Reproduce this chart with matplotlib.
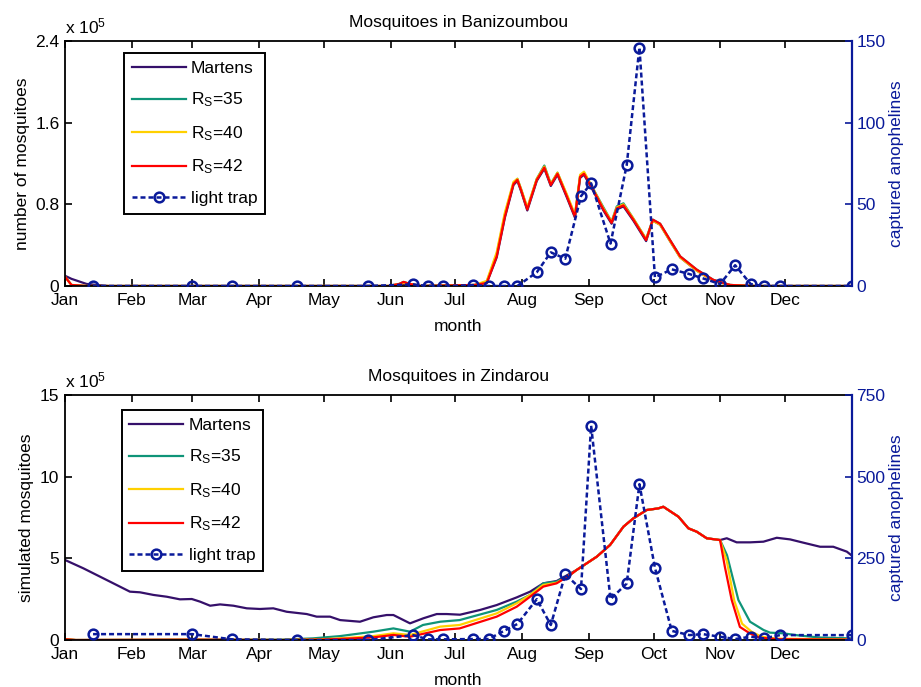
import numpy as np
import matplotlib
matplotlib.use("Agg")
from matplotlib import pyplot as plt

plt.rcParams["font.family"] = ["Liberation Sans", "DejaVu Sans"]
plt.rcParams["mathtext.fontset"] = "custom"
plt.rcParams["mathtext.rm"] = "Liberation Sans"
plt.rcParams["mathtext.it"] = "Liberation Sans"
FS = 12.5
plt.rcParams["font.size"] = FS

months = ["Jan", "Feb", "Mar", "Apr", "May", "Jun", "Jul", "Aug", "Sep", "Oct", "Nov", "Dec"]
month_start = [0, 31, 59, 90, 120, 151, 181, 212, 243, 273, 304, 334]

# light trap catch dates (day of year), shared by both sites
trap_days = [13, 59, 77.5, 107.6, 140.5, 161.4, 168.3, 175.3, 189.4, 196.5,
             203.6, 209.8, 218.8, 225.3, 232, 239.3, 244, 253, 260.5, 266.4,
             273.6, 281.4, 289.6, 295.8, 303.8, 310.8, 318, 324, 331.6, 365]

# ---- Banizoumbou (x 1e5 mosquitoes) ----
ban_days = [0, 3, 10, 20, 150, 155, 157, 160, 165, 190,
            195.6, 200.2, 204, 208, 209.8, 211.5, 214.4, 218.8, 222.3, 225.3,
            228.4, 232.7, 236.5, 238.9, 240.7, 245, 249.7, 253.5, 255.9, 259,
            263.6, 269.5, 272.6, 276, 280.6, 285.3, 293, 300.7, 308.4, 320, 365]
ban_martens = [0.10, 0.07, 0.02, 0.0, 0.0, 0.01, 0.02, 0.01, 0.0, 0.01,
               0.03, 0.28, 0.67, 0.99, 1.03, 0.93, 0.74, 1.03, 1.15, 0.98,
               1.09, 0.87, 0.67, 1.06, 1.09, 0.93, 0.74, 0.61, 0.75, 0.78,
               0.64, 0.44, 0.64, 0.60, 0.44, 0.28, 0.15, 0.05, 0.01, 0.0, 0.0]
ban_rs35 = [0.09, 0.01, 0.0, 0.0, 0.0, 0.02, 0.04, 0.02, 0.0, 0.01,
            0.04, 0.31, 0.70, 1.01, 1.05, 0.95, 0.76, 1.05, 1.18, 1.00,
            1.11, 0.89, 0.69, 1.08, 1.11, 0.95, 0.77, 0.63, 0.78, 0.81,
            0.66, 0.46, 0.65, 0.61, 0.45, 0.29, 0.16, 0.06, 0.01, 0.0, 0.0]
ban_rs40 = [0.09, 0.01, 0.0, 0.0, 0.0, 0.02, 0.03, 0.02, 0.0, 0.01,
            0.05, 0.33, 0.72, 1.02, 1.05, 0.95, 0.77, 1.05, 1.17, 1.00,
            1.11, 0.90, 0.70, 1.09, 1.12, 0.95, 0.76, 0.63, 0.77, 0.80,
            0.66, 0.46, 0.64, 0.60, 0.44, 0.28, 0.15, 0.05, 0.01, 0.0, 0.0]
ban_rs42 = [0.09, 0.01, 0.0, 0.0, 0.0, 0.02, 0.04, 0.02, 0.0, 0.01,
            0.03, 0.29, 0.68, 1.00, 1.04, 0.94, 0.75, 1.04, 1.16, 0.99,
            1.10, 0.88, 0.68, 1.07, 1.10, 0.94, 0.75, 0.62, 0.76, 0.79,
            0.65, 0.45, 0.65, 0.61, 0.45, 0.29, 0.16, 0.06, 0.01, 0.0, 0.0]
ban_trap = [0, 0, 0, 0, 0, 1, 0, 0, 0.5, 0,
            0, 0, 8.4, 20.6, 16.7, 55, 62.9, 26, 74, 146,
            5.3, 10.2, 7.3, 4.7, 1.2, 12.7, 1.2, 0, 0, 0]

# ---- Zindarou (x 1e5 mosquitoes) ----
zin_m_days = [0, 8.5, 20.9, 30.1, 34.8, 41, 47.2, 53.3, 58.8, 62.6,
              67.3, 71.9, 78.1, 84.3, 90.4, 96.6, 102.8, 112.1, 116.7, 122.9,
              127.6, 136.8, 143, 149.2, 152.3, 160, 166.2, 172.4, 177, 183.2,
              192.5, 200.2, 209.5, 215.7, 221.8, 228, 237.3, 246.6, 252.8, 259,
              263.6, 269.8, 275.2, 277.5, 284.5, 289.1, 293, 297.6, 303.8, 306.9,
              311.5, 317.7, 323.9, 330.1, 336.3, 342.4, 350.2, 356.3, 362.6, 365]
zin_martens = [4.9, 4.39, 3.57, 2.96, 2.92, 2.76, 2.65, 2.49, 2.51, 2.35,
               2.1, 2.18, 2.1, 1.94, 1.9, 1.94, 1.73, 1.59, 1.43, 1.43,
               1.22, 1.12, 1.39, 1.53, 1.53, 1.02, 1.33, 1.59, 1.59, 1.55,
               1.84, 2.14, 2.61, 2.96, 3.47, 3.61, 4.29, 5.1, 5.82, 6.94,
               7.45, 7.96, 8.06, 8.16, 7.55, 6.84, 6.63, 6.23, 6.12, 6.23,
               5.98, 5.98, 6.02, 6.26, 6.16, 5.96, 5.71, 5.71, 5.41, 5.16]

zin_35_days = [0, 5, 60, 100, 115, 127.6, 143, 152.3, 160, 166,
               174, 183, 200.2, 209.5, 215.7, 221.8, 228, 234.2, 237.3, 246.6,
               252.8, 259, 263.6, 269.8, 275.2, 277.5, 284.5, 289.1, 293, 297.6,
               303.8, 307, 312.3, 317.7, 324, 327, 333, 339, 350, 365]
zin_rs35 = [0.05, 0.0, 0.02, 0.02, 0.1, 0.24, 0.51, 0.71, 0.51, 0.92,
            1.12, 1.22, 1.84, 2.35, 2.76, 3.47, 3.57, 3.98, 4.29, 5.1,
            5.82, 6.94, 7.45, 7.96, 8.06, 8.16, 7.55, 6.84, 6.63, 6.23,
            6.12, 5.2, 2.45, 1.12, 0.61, 0.45, 0.41, 0.3, 0.15, 0.1]

zin_40_days = [0, 5, 60, 100, 120, 130, 143, 152.3, 160, 174,
               183, 200.2, 209.5, 215.7, 221.8, 228, 234.2, 237.3, 246.6, 252.8,
               259, 263.6, 269.8, 275.2, 277.5, 284.5, 289.1, 293, 297.6, 303.8,
               307, 310.3, 314, 318.5, 323, 331, 365]
zin_rs40 = [0.05, 0.0, 0.02, 0.0, 0.05, 0.12, 0.24, 0.41, 0.31, 0.82,
            0.92, 1.63, 2.25, 2.76, 3.37, 3.5, 3.98, 4.29, 5.1, 5.82,
            6.94, 7.45, 7.96, 8.06, 8.16, 7.55, 6.84, 6.63, 6.23, 6.12,
            4.8, 2.45, 1.0, 0.5, 0.2, 0.08, 0.03]

zin_42_days = [0, 5, 60, 100, 120, 130, 143, 152.3, 160, 174,
               183, 200.2, 209.5, 215.7, 221.8, 228, 234.2, 237.3, 246.6, 252.8,
               259, 263.6, 269.8, 275.2, 277.5, 284.5, 289.1, 293, 297.6, 303.8,
               306, 309.2, 313, 317.7, 322, 330, 365]
zin_rs42 = [0.05, 0.0, 0.02, 0.0, 0.03, 0.08, 0.16, 0.31, 0.2, 0.61,
            0.71, 1.43, 2.04, 2.65, 3.27, 3.47, 3.98, 4.29, 5.1, 5.82,
            6.94, 7.45, 7.96, 8.06, 8.16, 7.55, 6.84, 6.63, 6.23, 6.12,
            4.5, 2.45, 0.8, 0.4, 0.15, 0.05, 0.02]

zin_trap = [18, 18, 2, 0, 0, 15, 2, 2, 3, 3,
            28, 49, 125, 46, 201, 156, 656, 125, 173, 477,
            221, 28, 15, 18, 10, 3, 10, 5, 15, 15]

c_martens = "#35106a"
c_35 = "#0f9478"
c_40 = "#ffd000"
c_42 = "#ff0000"
c_trap = "#0a1a9a"


def draw_panel(rect, title, ylabel, ymax, yticks, yticklabels, rmax, rticks,
               sims, trap, leg_anchor):
    ax = fig.add_axes(rect)
    for days, vals, col, lab in sims:
        ax.plot(days, vals, color=col, lw=1.6, label=lab)
    ax.set_xlim(0, 365)
    ax.set_ylim(0, ymax)
    ax.set_xticks(month_start)
    ax.set_xticklabels(months)
    ax.set_yticks(yticks)
    ax.set_yticklabels(yticklabels)
    ax.tick_params(direction="in", length=5, width=1.2, top=True, labelsize=FS)
    ax.tick_params(axis="x", pad=5)
    ax.tick_params(axis="y", right=False, pad=4)
    for s in ["left", "bottom", "top"]:
        ax.spines[s].set_linewidth(1.3)
    ax.spines["right"].set_visible(False)
    ax.set_xlabel("month", fontsize=FS, labelpad=8)
    ax.set_ylabel(ylabel, fontsize=FS, labelpad=4)
    ax.set_title(title, fontsize=FS, pad=10)
    ax.text(0.0, 1.02, r"x 10$^{5}$", transform=ax.transAxes, fontsize=FS,
            ha="left", va="bottom")

    ax2 = ax.twinx()
    ax2.plot(trap_days, trap, color=c_trap, lw=1.8, dashes=(2, 1.2),
             marker="o", ms=7, mfc="none", mew=1.8, label="light trap")
    ax2.set_ylim(0, rmax)
    ax2.set_yticks(rticks)
    ax2.tick_params(axis="y", direction="in", length=5, width=1.2, colors=c_trap,
                    labelsize=FS, pad=3)
    ax2.spines["right"].set_color(c_trap)
    ax2.spines["right"].set_linewidth(1.6)
    for s in ["left", "bottom", "top"]:
        ax2.spines[s].set_visible(False)
    ax2.set_ylabel("captured anophelines", color=c_trap, fontsize=FS, labelpad=3)

    h1, l1 = ax.get_legend_handles_labels()
    h2, l2 = ax2.get_legend_handles_labels()
    leg = ax2.legend(h1 + h2, l1 + l2, loc="upper left", bbox_to_anchor=leg_anchor,
                     borderaxespad=0, fancybox=False, framealpha=1, edgecolor="black",
                     fontsize=FS, labelspacing=0.85, handlelength=3.1,
                     handletextpad=0.3, borderpad=0.45)
    leg.get_frame().set_linewidth(1.4)
    return ax, ax2


fig = plt.figure(figsize=(9.21, 6.87), dpi=100)

draw_panel([0.0706, 0.5837, 0.8545, 0.3566], "Mosquitoes in Banizoumbou",
           "number of mosquitoes", 2.4, [0, 0.8, 1.6, 2.4], ["0", "0.8", "1.6", "2.4"],
           150, [0, 50, 100, 150],
           [(ban_days, ban_martens, c_martens, "Martens"),
            (ban_days, ban_rs35, c_35, r"R$_\mathrm{S}$=35"),
            (ban_days, ban_rs40, c_40, r"R$_\mathrm{S}$=40"),
            (ban_days, ban_rs42, c_42, r"R$_\mathrm{S}$=42")],
           ban_trap, (0.075, 0.951))

draw_panel([0.0706, 0.0684, 0.8545, 0.3566], "Mosquitoes in Zindarou",
           "simulated mosquitoes", 15, [0, 5, 10, 15], ["0", "5", "10", "15"],
           750, [0, 250, 500, 750],
           [(zin_m_days, zin_martens, c_martens, "Martens"),
            (zin_35_days, zin_rs35, c_35, r"R$_\mathrm{S}$=35"),
            (zin_40_days, zin_rs40, c_40, r"R$_\mathrm{S}$=40"),
            (zin_42_days, zin_rs42, c_42, r"R$_\mathrm{S}$=42")],
           zin_trap, (0.072, 0.939))

fig.savefig("out.png", dpi=100)
